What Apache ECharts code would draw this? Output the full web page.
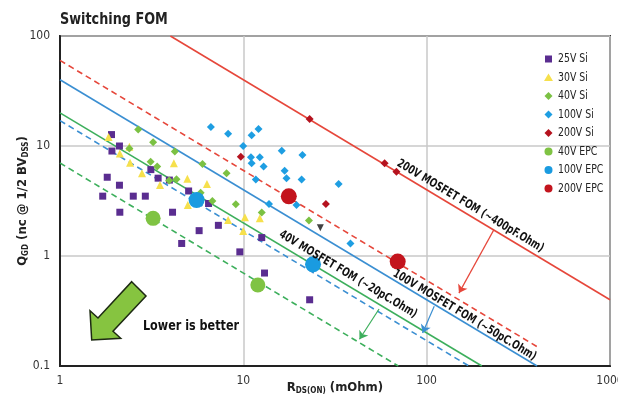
<!DOCTYPE html>
<html><head><meta charset="utf-8">
<script src="https://cdn.jsdelivr.net/npm/echarts@6/dist/echarts.min.js"></script>
<style>html,body{margin:0;padding:0;background:#fff}#c{width:618px;height:402px}</style>
</head><body><div id="c"></div>
<script>
const FONT = '"Liberation Sans Narrow","DejaVu Sans Condensed","Roboto Condensed",sans-serif';
const xTicks = [1, 10, 100, 1000];
const yTicks = [0.1, 1, 10, 100];
const seriesNames = ['25V Si','30V Si','40V Si','100V Si','200V Si','40V EPC','100V EPC','200V EPC'];
const seriesColors = ['#5a2d90','#f6e04c','#7bc143','#1e9ee2','#b5121e','#7fc343','#1a9be0','#c3141d'];
const seriesSymbols = ['rect','triangle','diamond','diamond','diamond','circle','circle','circle'];
const si25 = [[1.91,12.7],[2.11,10.0],[1.92,9.0],[1.81,5.2],[2.11,4.4],[1.71,3.5],[2.51,3.5],[2.92,3.5],[2.12,2.5],[3.13,6.1],[3.43,5.1],[3.95,4.9],[5.03,3.9],[4.11,2.5],[4.61,1.3],[6.46,3.0],[5.74,1.7],[7.31,1.9],[12.6,1.47],[9.57,1.09],[13.05,0.70],[23.0,0.40]];
const si30 = [[1.84,12.1],[2.39,9.85],[2.12,8.55],[2.41,7.05],[2.80,5.65],[4.18,6.96],[3.51,4.42],[4.95,5.04],[6.33,4.51],[4.98,2.91],[8.26,2.12],[10.2,2.25],[12.3,2.2],[9.98,1.69]];
const si40 = [[2.67,14.1],[2.39,9.5],[3.22,10.8],[4.23,8.9],[3.12,7.2],[3.39,6.5],[3.94,4.86],[4.32,4.98],[5.99,6.86],[8.10,5.65],[6.78,3.16],[5.85,3.76],[9.10,2.95],[12.6,2.48],[22.8,2.10]];
const si100 = [[6.65,14.9],[8.26,12.9],[11.1,12.5],[12.1,14.3],[9.98,10.0],[11.0,7.9],[12.3,7.9],[11.1,6.96],[12.9,6.5],[16.2,9.06],[16.8,5.97],[17.2,5.09],[11.7,4.96],[13.8,2.97],[19.5,2.91],[21.0,8.28],[20.8,4.96],[33.1,4.51],[38.4,1.30]];
const si200 = [[9.69,7.99],[23.0,17.6],[59.0,6.96],[68.4,5.84],[28.2,2.97]];
const epc40 = [[3.22,2.2],[12.0,0.545]];
const epc100 = [[5.56,3.23],[24.0,0.84]];
const epc200 = [[17.7,3.49],[69.5,0.89]];
const unlabeled = [[26.3,1.81]];
// FOM lines (endpoints in R, Q)
const fom200 = [[4,100],[1000,0.4]];
const fom200Target = [[1,60],[400,0.15]];
const fom100 = [[1,40],[400,0.1]];
const fom100Target = [[1,17],[170,0.1]];
const fom40 = [[1,20],[200,0.1]];
const fom40Target = [[1,7],[70,0.1]];
// improvement arrows (from, to)
const arrow200 = [[232,1.72],[150,0.46]];
const arrow100 = [[110,0.35],[95,0.2]];
const arrow40 = [[55,0.33],[43,0.175]];
const lineLabels = ['200V MOSFET FOM (~400pF.Ohm)','100V MOSFET FOM (~50pC.Ohm)','40V MOSFET FOM (~20pC.Ohm)'];
const labelAnchors = [[173,2.85],[161,0.29],[37.3,0.68]];

const RED='#e6473b', BLUE='#3b8fd2', GREEN='#3daf5c';
function fomLine(data, color, dashed, arrow){
  const s = {type:'line', data:data, symbol:'none', silent:true, z:2,
    lineStyle:{color:color, width:1.6, type: dashed ? [6,4] : 'solid'}};
  if(arrow){
    s.markLine = {silent:true, symbol:['none','arrow'], symbolSize:8, label:{show:false},
      lineStyle:{color:color, width:1.2, type:'solid'},
      data:[[{coord:arrow[0]},{coord:arrow[1]}]]};
  }
  return s;
}
const scatterData = [si25, si30, si40, si100, si200, epc40, epc100, epc200];
const scatterSizes = [7, 8, 8, 8, 8, 15, 16, 16];
const scatterSeries = seriesNames.map((n,i)=>({type:'scatter', name:n, data:scatterData[i],
  symbol:seriesSymbols[i], symbolSize:scatterSizes[i], z:5, itemStyle:{color:seriesColors[i], opacity:1}}));
const richName = {b:{fontFamily:FONT, fontSize:13, fontWeight:'bold', color:'#222'},
  s:{fontFamily:FONT, fontSize:8, fontWeight:'bold', color:'#222', padding:[6,0,0,0]}};
const chart = echarts.init(document.getElementById('c'));
const option = {
  animation:false,
  textStyle:{fontFamily:FONT},
  grid:{left:60, right:8, top:36, bottom:36, outerBoundsMode:'none', containLabel:false, show:true, borderColor:'#333', borderWidth:2, backgroundColor:'transparent'},
  xAxis:{type:'log', logBase:10, min:xTicks[0], max:xTicks[xTicks.length-1],
    axisLine:{lineStyle:{color:'#222', width:2}}, axisTick:{show:false},
    axisLabel:{fontFamily:FONT, fontSize:12, color:'#333', margin:9, formatter:v=>String(v)},
    splitLine:{show:true, lineStyle:{color:'#c8c8c8', width:1.5}},
    name:'{b|R}{s|DS(ON)}{b| (mOhm)}', nameLocation:'middle', nameGap:15, nameMoveOverlap:false,
    nameTextStyle:{rich:richName}},
  yAxis:{type:'log', logBase:10, min:yTicks[0], max:yTicks[yTicks.length-1],
    axisLine:{lineStyle:{color:'#222', width:2}}, axisTick:{show:false},
    axisLabel:{fontFamily:FONT, fontSize:12, color:'#333', margin:10, formatter:v=>String(v)},
    splitLine:{show:true, lineStyle:{color:'#c8c8c8', width:1.5}},
    name:'{b|Q}{s|GD}{b| (nc @ 1/2 BV}{s|DSS}{b|)}', nameLocation:'middle', nameGap:30, nameRotate:90, nameMoveOverlap:false,
    nameTextStyle:{rich:richName}},
  series:[
    fomLine(fom200, RED, false, arrow200),
    fomLine(fom200Target, RED, true, null),
    fomLine(fom100, BLUE, false, arrow100),
    fomLine(fom100Target, BLUE, true, null),
    fomLine(fom40, GREEN, false, arrow40),
    fomLine(fom40Target, GREEN, true, null)
  ].concat(scatterSeries).concat([
    {type:'scatter', name:'other', data:unlabeled, symbol:'triangle', symbolRotate:180, symbolSize:7, z:5, itemStyle:{color:'#111'}}
  ])
};
chart.setOption(option);
// rotated labels along FOM lines, title, legend, decorative arrow
const p1 = chart.convertToPixel({gridIndex:0},[1,1]);
const p2 = chart.convertToPixel({gridIndex:0},[10,0.1]);
const rot = -Math.atan2(p2[1]-p1[1], p2[0]-p1[0]);
const gfx = lineLabels.map((t,i)=>{
  const p = chart.convertToPixel({gridIndex:0}, labelAnchors[i]);
  return {type:'text', x:p[0], y:p[1], rotation:rot, scaleX:0.82, z:20,
    style:{text:t, fontFamily:FONT, fontSize:12, fontWeight:'bold', fill:'#111', align:'center', verticalAlign:'middle'}};
});
gfx.push({type:'text', x:60, y:20, scaleX:0.89, z:20, style:{text:'Switching FOM', fontFamily:FONT, fontSize:16, fontWeight:'bold', fill:'#222', align:'left', verticalAlign:'middle'}});
// legend
seriesNames.forEach((n,i)=>{
  const y = 59 + i*18.5, cx = 548.5, col = seriesColors[i], sym = seriesSymbols[i];
  let icon;
  if(sym==='rect') icon = {type:'rect', shape:{x:cx-3.5, y:y-3.5, width:7, height:7}, style:{fill:col}};
  else if(sym==='triangle') icon = {type:'polygon', shape:{points:[[cx,y-4],[cx+4.5,y+3.5],[cx-4.5,y+3.5]]}, style:{fill:col}};
  else if(sym==='diamond') icon = {type:'polygon', shape:{points:[[cx,y-4],[cx+4,y],[cx,y+4],[cx-4,y]]}, style:{fill:col}};
  else icon = {type:'circle', shape:{cx:cx, cy:y, r:4}, style:{fill:col}};
  icon.z = 20;
  gfx.push(icon);
  gfx.push({type:'text', x:558, y:y, scaleX:0.8, z:20, style:{text:n, fontFamily:FONT, fontSize:13, fill:'#222', align:'left', verticalAlign:'middle'}});
});
gfx.push({type:'polygon', z:20, shape:{points:[[131.7,281.7],[146,296],[113,331.3],[120.7,338.3],[91.7,340],[90,310.7],[98,318]]},
  style:{fill:'#86c440', stroke:'#1d2a12', lineWidth:1.5}});
gfx.push({type:'text', x:191, y:326, scaleX:0.89, z:20, style:{text:'Lower is better', fontFamily:FONT, fontSize:14, fontWeight:'bold', fill:'#111', align:'center', verticalAlign:'middle'}});
chart.setOption({graphic:gfx});
</script></body></html>
